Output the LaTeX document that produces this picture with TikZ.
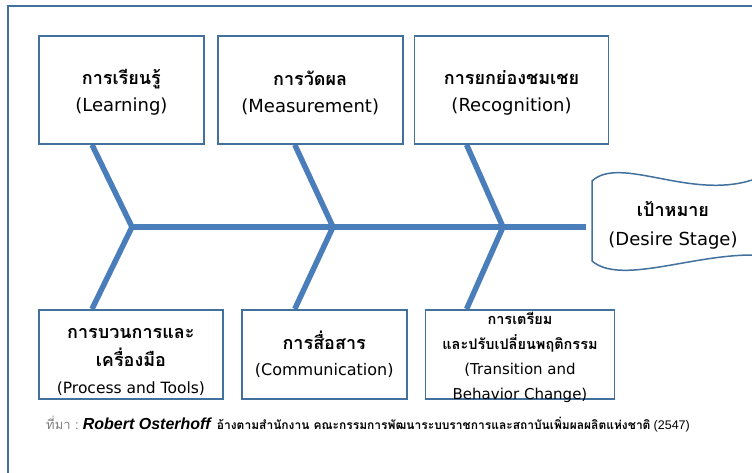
\documentclass[tikz,border=0pt]{standalone}
\usepackage{fontspec}
\setmainfont{DejaVu Sans}
\newfontfamily\thaifont[Script=Thai]{Loma}
\newfontfamily\notefont{Liberation Sans}
\usetikzlibrary{positioning, backgrounds}

\definecolor{boxline}{HTML}{41719C}
\definecolor{boneblue}{HTML}{4A7EBB}

\newcommand{\thaitxt}[2]{{\thaifont\bfseries\fontsize{#1}{#1}\selectfont #2}}

\begin{document}
\begin{tikzpicture}[
            x=1pt, y=-1pt,
            cause/.style={rectangle, draw=boxline, line width=1.8pt, fill=white, align=center, inner sep=0pt, minimum height=108pt, font=\fontsize{18}{27}\selectfont},
            subcause/.style={cause, minimum height=89pt, font=\fontsize{16}{26}\selectfont},
            bone/.style={draw=boneblue, line width=5.5pt},
            frame/.style={draw=boxline, line width=1.8pt}
        ]
            \useasboundingbox (0,0) rectangle (752,473);
            \draw[frame] (8,473) -- (8,6) -- (752,6);

            % causes above the spine
            \node[cause, minimum width=165pt, anchor=north west] (learn) at (38,35) {\rule{0pt}{20pt}\thaitxt{18}{การเรียนรู้}\\(Learning)};
            \node[cause, minimum width=185pt, right=12pt of learn] (meas) {\rule{0pt}{20pt}\thaitxt{18}{การวัดผล}\\(Measurement)};
            \node[cause, minimum width=194pt, right=10pt of meas] (recog) {\rule{0pt}{20pt}\thaitxt{18}{การยกย่องชมเชย}\\(Recognition)};

            % causes below the spine
            \node[subcause, minimum width=184pt, anchor=north west, font=\fontsize{15.5}{28}\selectfont] (proc) at (38,309) {\rule{0pt}{26pt}\thaitxt{18}{การบวนการและ}\\\thaitxt{18}{เครื่องมือ}\\[-1pt](Process and Tools)};
            \node[subcause, minimum width=165pt, right=17pt of proc] (comm) {\thaitxt{18}{การสื่อสาร}\\(Communication)};
            \node[subcause, minimum width=189pt, right=17pt of comm] (trans) {};
            \node[align=center, inner sep=0pt, font=\fontsize{15}{25}\selectfont] (transtext) at ([yshift=-3pt]trans.center) {\thaitxt{14.5}{การเตรียม}\\\thaitxt{14.5}{และปรับเปลี่ยนพฤติกรรม}\\(Transition and\\Behavior Change)};

            % head of the fish
            \node[align=center, font=\fontsize{18}{29}\selectfont] (goal) at (673,225) {\thaitxt{18}{เป้าหมาย}\\(Desire Stage)};
            \draw[boxline, line width=1.5pt] (752,180) .. controls (690,200) and (620,155) .. (592,181) -- (592,261) .. controls (620,285) and (690,255) .. (752,255);

            \coordinate (j1) at (132,227);
            \coordinate (j2) at (333,227);
            \coordinate (j3) at (503,227);
            \coordinate (head) at (586,227);

            \begin{scope}[on background layer]
                \fill[white] (0,0) rectangle (752,473);
                \draw[bone] (j1) -- (head);
                \draw[bone] ([xshift=54pt]learn.south west) -- (j1) -- ([xshift=54pt]proc.north west);
                \draw[bone] ([xshift=78pt]meas.south west) -- (j2) -- ([xshift=54pt]comm.north west);
                \draw[bone] ([xshift=53pt]recog.south west) -- (j3) -- ([xshift=42pt]trans.north west);
            \end{scope}

            % source line
            \node[anchor=base west, inner sep=0pt] (source) at (46,429) {{\color{gray}\thaifont\fontsize{13}{13}\selectfont ที่มา :} {\notefont\bfseries\itshape\fontsize{16}{16}\selectfont Robert Osterhoff}\ \ {\thaifont\bfseries\fontsize{12}{12}\selectfont อ้างตามสำนักงาน คณะกรรมการพัฒนาระบบราชการและสถาบันเพิ่มผลผลิตแห่งชาติ} {\notefont\fontsize{12.5}{12}\selectfont (2547)}};
        \end{tikzpicture}
\end{document}
